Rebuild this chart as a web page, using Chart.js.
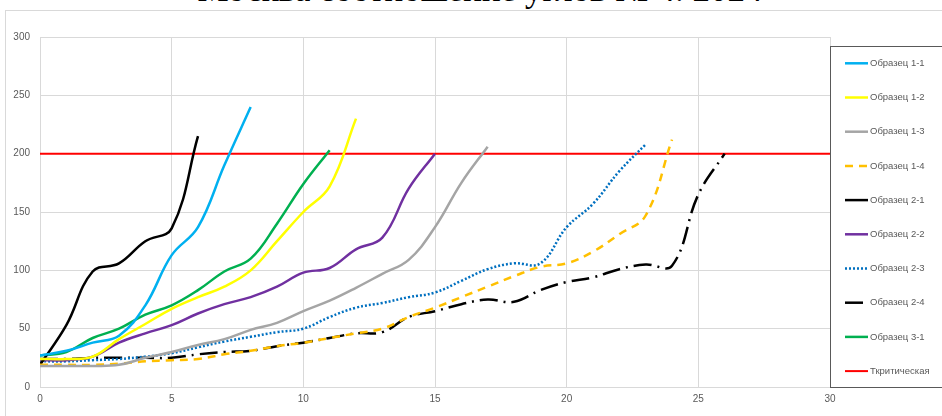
<!DOCTYPE html>
<html>
<head>
<meta charset="utf-8">
<script src="https://cdn.jsdelivr.net/npm/chart.js@4"></script>
<style>
  html, body { margin: 0; padding: 0; background: #fff; overflow: hidden; }
  #frame { position: absolute; left: 5px; top: 10px; width: 950px; height: 420px; border: 1px solid #d9d9d9; }
  #title { position: absolute; left: 0; width: 960px; top: -28.5px; text-align: center;
           font: 35px/35px "Liberation Serif", serif; color: #000; white-space: nowrap; }
  #chart { position: absolute; left: 0; top: 0; }
</style>
</head>
<body>
<div id="frame"></div>
<div id="title">Москва соотношение углов № 4. 2024</div>
<canvas id="chart" width="942" height="416"></canvas>
<script>
// values per day (x = 0, 1, 2 ...)
const s11 = [27, 31, 38, 44, 70, 113, 137, 190, 240];
const s12 = [24, 24, 26, 41, 54, 67, 77, 86, 100, 125, 150, 172, 230];
const s13 = [18, 18, 18, 19, 25, 30, 36, 41, 49, 55, 65, 74, 85, 97, 109, 137, 175, 206];
const s14 = [19, 19, 19, 20, 22, 23, 24, 28, 31, 35, 38, 42, 46, 50, 60, 68, 77, 86, 95, 103, 106, 116, 131, 147, 212];
const s21 = [19, 53, 99, 106, 125, 136, 215];
const s22 = [23, 23, 26, 38, 46, 53, 63, 71, 77, 86, 98, 102, 118, 128, 170, 200];
const s23 = [22, 22, 23, 24, 26, 29, 34, 39, 43, 47, 50, 60, 68, 72, 77, 81, 91, 101, 106, 106, 137, 157, 185, 208];
const s24 = [24, 24, 25, 25, 25, 25, 28, 30, 31, 35, 38, 42, 46, 47, 60, 65, 71, 75, 73, 83, 90, 94, 101, 105, 104, 165, 200];
const s31 = [27, 30, 42, 50, 62, 70, 83, 99, 110, 140, 174, 203];
const critical = 200;
const critX = [0, 30];

const xTicks = [0, 5, 10, 15, 20, 25, 30];
const yTicks = [0, 50, 100, 150, 200, 250, 300];

const toPoints = arr => arr.map((v, i) => ({ x: i, y: v }));

function series(label, values, color, dash) {
    return {
        label,
        data: toPoints(values),
        borderColor: color,
        backgroundColor: color,
        borderWidth: 2.5,
        borderDash: dash || [],
        borderCapStyle: 'butt',
        showLine: true,
        pointRadius: 0,
        tension: 0.4,
        fill: false
    };
}

const datasets = [
    series('Образец 1-1', s11, '#00b0f0'),
    series('Образец 1-2', s12, '#ffff00'),
    series('Образец 1-3', s13, '#a5a5a5'),
    series('Образец 1-4', s14, '#ffc000', [8, 6]),
    series('Образец 2-1', s21, '#000000'),
    series('Образец 2-2', s22, '#7030a0'),
    series('Образец 2-3', s23, '#0070c0', [2, 2]),
    series('Образец 2-4', s24, '#000000', [18, 6, 2, 6]),
    series('Образец 3-1', s31, '#00b050'),
    {
        label: 'Ткритическая',
        data: critX.map(x => ({ x, y: critical })),
        borderColor: '#ff0000',
        borderWidth: 2,
        showLine: true,
        pointRadius: 0,
        tension: 0
    }
];

// boxed legend on the right, like the Excel one
const boxLegend = {
    id: 'boxLegend',
    afterDraw(chart) {
        const ctx = chart.ctx;
        const left = chart.chartArea.right;
        ctx.save();
        ctx.strokeStyle = '#595959';
        ctx.lineWidth = 1;
        ctx.strokeRect(left + 0.5, 46.5, 130, 341);
        chart.data.datasets.forEach((ds, i) => {
            const y = 63.3 + i * 34.2;
            ctx.strokeStyle = ds.borderColor;
            ctx.lineWidth = ds.borderWidth;
            ctx.setLineDash(ds.borderDash || []);
            ctx.beginPath();
            ctx.moveTo(left + 15, y);
            ctx.lineTo(left + 38, y);
            ctx.stroke();
            ctx.setLineDash([]);
            ctx.fillStyle = '#595959';
            ctx.font = '9.5px "Liberation Sans", sans-serif';
            ctx.textBaseline = 'middle';
            ctx.fillText(ds.label, left + 40, y);
        });
        ctx.restore();
    }
};

new Chart(document.getElementById('chart'), {
    type: 'scatter',
    data: { datasets },
    options: {
        responsive: false,
        animation: false,
        layout: { padding: { top: 37, right: 112, left: 0, bottom: 0 } },
        plugins: {
            legend: { display: false },
            tooltip: { enabled: false }
        },
        scales: {
            x: {
                type: 'linear',
                min: 0,
                max: 30,
                afterBuildTicks: s => { s.ticks = xTicks.map(v => ({ value: v })); },
                afterFit: s => { s.height = 29; },
                ticks: { color: '#595959', padding: 6, font: { size: 10, family: '"Liberation Sans", sans-serif' } },
                grid: { color: '#d9d9d9', drawTicks: false },
                border: { color: '#d9d9d9' }
            },
            y: {
                min: 0,
                max: 300,
                afterBuildTicks: s => { s.ticks = yTicks.map(v => ({ value: v })); },
                afterFit: s => { s.width = 40; },
                ticks: { color: '#595959', padding: 10, font: { size: 10, family: '"Liberation Sans", sans-serif' } },
                grid: { color: '#d9d9d9', drawTicks: false },
                border: { color: '#d9d9d9' }
            }
        }
    },
    plugins: [boxLegend]
});
</script>
</body>
</html>
